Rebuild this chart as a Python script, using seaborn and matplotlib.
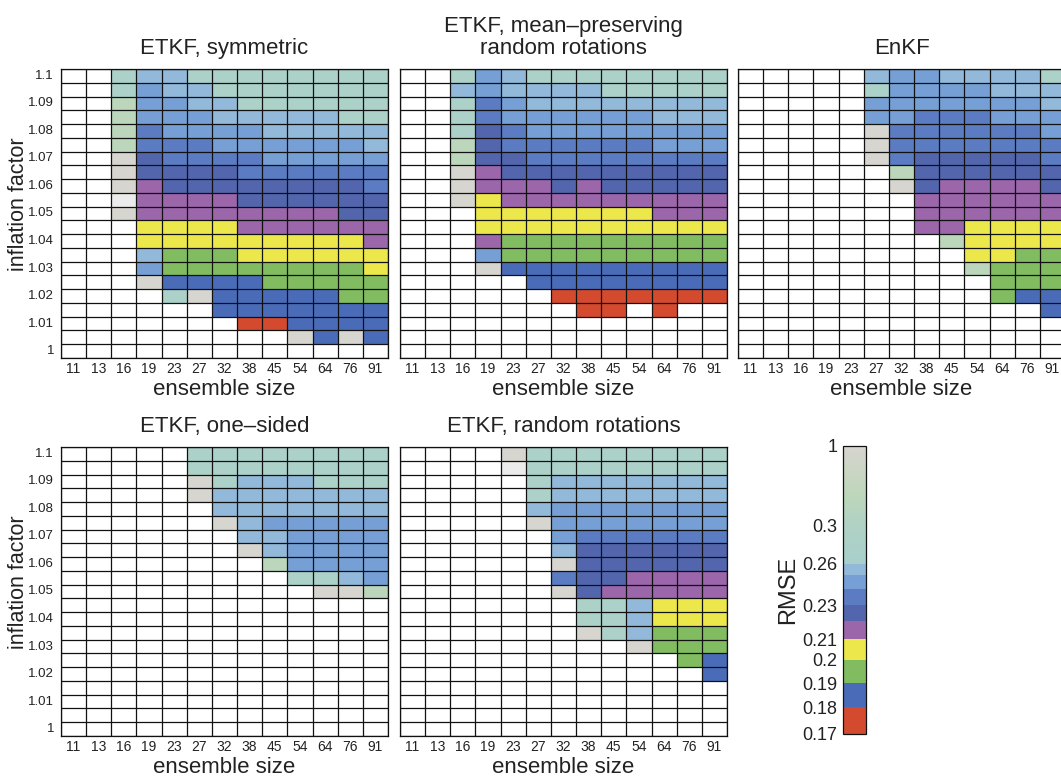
import numpy as np
import pandas as pd
import matplotlib
matplotlib.use("Agg")
import matplotlib.pyplot as plt
import seaborn as sns
from matplotlib.colors import ListedColormap, FuncNorm, to_rgb

sns.set_style("white")
plt.rcParams["font.family"] = ["Liberation Sans", "DejaVu Sans"]

# ---------------- data ----------------
ensemble_sizes = [11, 13, 16, 19, 23, 27, 32, 38, 45, 54, 64, 76, 91]
inflation_factors = [1.100, 1.095, 1.090, 1.085, 1.080, 1.075, 1.070, 1.065,
                     1.060, 1.055, 1.050, 1.045, 1.040, 1.035, 1.030, 1.025,
                     1.020, 1.015, 1.010, 1.005, 1.000]
inflation_ticklabels = ["1.1", "", "1.09", "", "1.08", "", "1.07", "", "1.06", "",
                        "1.05", "", "1.04", "", "1.03", "", "1.02", "", "1.01", "", "1"]

# estimated RMSE for each colour class ('.' = diverged / no value)
rmse_of_class = {".": np.nan, "r": 0.175, "b": 0.185, "g": 0.195, "y": 0.205,
                 "p": 0.215, "d": 0.225, "m": 0.235, "c": 0.245, "l": 0.255,
                 "t": 0.28, "s": 0.55, "h": 0.97, "x": 1.5}

etkf_symmetric = [
    "..tlltttttttt", "..tcllttttttt", "..scclltttttt", "..scccllllltt",
    "..smcccclllll", "..smmmccccccl", "..hdmmmmccccc", "..hddddmmmmmm",
    "..hpddddddddm", "..xppppdddddd", "..hppppppppdd", "...yyyypppppp",
    "...yyyyyyyyyp", "...lgggyyyyyy", "...cggggggggy", "...hbbbbggggg",
    "....thbbbbbgg", "......bbbbbbb", ".......rrbbbb", ".........hbhb",
    ".............",
]
etkf_mean_preserving = [
    "..tcltttttttt", "..lcllllttttt", "..tmcllllllll", "..tmcccccclll",
    "..tdmcccccccc", "..sdmmmmmmccc", "..sddmmmmmmmm", "..hpddddddddd",
    "..hpppdpddddd", "..hyppppppppp", "...yyyyyyyppp", "...yyyyyyyyyy",
    "...pggggggggg", "...cggggggggg", "...hbbbbbbbbb", ".....bbbbbbbb",
    "......rrrrrrr", ".......rr.r..", ".............", ".............",
    ".............",
]
enkf = [
    ".....lccllllt", ".....tcccclll", ".....cccccccl", ".....ccmmmccc",
    ".....hmmmmmmc", ".....hmmmmmmm", ".....hmdddddm", "......sdddddd",
    "......hdppppd", ".......pppppp", ".......pppppp", ".......ppyyyy",
    "........syyyy", ".........yygg", ".........sggg", "..........ggg",
    "..........gbb", "............b", ".............", ".............",
    ".............",
]
etkf_one_sided = [
    ".....tttttttt", ".....tttttttt", ".....htlllttt", ".....hlllllll",
    "......lllllll", "......hlccccc", ".......llcccc", ".......hlcccc",
    "........scccc", ".........ttlc", "..........hhs", ".............",
    ".............", ".............", ".............", ".............",
    ".............", ".............", ".............", ".............",
    ".............",
]
etkf_random_rotations = [
    "....htttttttt", "....xtttttttt", ".....tlllllll", ".....tlllllll",
    ".....lccccccc", ".....hccccccc", "......cmmmmmm", "......ldddddd",
    "......hdddddd", "......mddpppp", "......hdppppp", ".......ttlyyy",
    ".......ttlyyy", ".......htlggg", ".........hggg", "...........gb",
    "............b", ".............", ".............", ".............",
    ".............",
]

panels = [
    ("ETKF, symmetric", etkf_symmetric),
    ("ETKF, mean\u2013preserving\nrandom rotations", etkf_mean_preserving),
    ("EnKF", enkf),
    ("ETKF, one\u2013sided", etkf_one_sided),
    ("ETKF, random rotations", etkf_random_rotations),
]

cbar_ticks = [0.17, 0.18, 0.19, 0.2, 0.21, 0.23, 0.26, 0.3, 1]
cbar_ticklabels = ["0.17", "0.18", "0.19", "0.2", "0.21", "0.23", "0.26", "0.3", "1"]

# ---------------- colour scale (non-linear, as in the colorbar) ----------------
scale_vals = np.array([0.17, 0.18, 0.19, 0.20, 0.21, 0.22, 0.23, 0.24, 0.25, 0.26, 0.30, 1.0, 10.0])
scale_px = np.array([734, 707, 683, 660, 639, 621, 605, 589, 575, 564, 526, 446, 446 - 288 * 9])
scale_pos = (734 - scale_px) / 288.0


def fwd(x):
    return np.interp(x, scale_vals, scale_pos)


def inv(p):
    return np.interp(p, scale_pos, scale_vals)


norm = FuncNorm((fwd, inv), vmin=0.17, vmax=1.0)

bin_edges = [0.17, 0.18, 0.19, 0.20, 0.21, 0.22, 0.23, 0.24, 0.25, 0.26]
bin_colors = ["#d44a2f", "#4a6cb8", "#82bc60", "#ece84c", "#9b66aa",
              "#5366ad", "#5b7bc2", "#76a0d5", "#92b8da"]
grad_vals = [0.26, 0.30, 0.55, 0.80, 1.0]
grad_colors = ["#a8cfcb", "#afd2c5", "#bcd6bb", "#cbd6c4", "#d8d5d1"]
grad_rgb = np.array([to_rgb(c) for c in grad_colors])

N = 288
entries = []
for v in inv((np.arange(N) + 0.5) / N):
    if v < 0.26:
        k = int(np.searchsorted(bin_edges, v, side="right")) - 1
        entries.append(to_rgb(bin_colors[k]))
    else:
        entries.append(tuple(np.interp(v, grad_vals, grad_rgb[:, j]) for j in range(3)))
cmap = ListedColormap(entries)
cmap.set_over("#ebebeb")
cmap.set_bad("white")

# ---------------- figure ----------------
W, H = 1061, 776
fig = plt.figure(figsize=(W / 100, H / 100), dpi=100)
fig.patch.set_facecolor("white")

ax_px = [(61, 69), (400, 69), (738, 69), (61, 447), (400, 447)]
ax_w, ax_h = 327, 289

mesh = None
for i, ((title, rows), (x0, y0)) in enumerate(zip(panels, ax_px)):
    ax = fig.add_axes([x0 / W, 1 - (y0 + ax_h) / H, ax_w / W, ax_h / H])
    data = pd.DataFrame([[rmse_of_class[ch] for ch in r] for r in rows],
                        index=inflation_factors, columns=ensemble_sizes)
    show_y = i in (0, 3)
    sns.heatmap(data, ax=ax, cmap=cmap, norm=norm, cbar=False,
                xticklabels=ensemble_sizes,
                yticklabels=inflation_ticklabels if show_y else False,
                linewidths=0)
    mesh = ax.collections[0]
    ax.set_xticks(np.arange(len(ensemble_sizes) + 1), minor=True)
    ax.set_yticks(np.arange(len(inflation_factors) + 1), minor=True)
    ax.grid(which="minor", color="#111111", lw=0.9)
    ax.grid(which="major", visible=False)
    ax.set_axisbelow(False)
    ax.tick_params(which="both", length=0)
    ax.tick_params(axis="x", labelsize=10, pad=3, colors="#222222")
    ax.tick_params(axis="y", labelsize=9.5, pad=5, colors="#222222")
    plt.setp(ax.get_xticklabels(), rotation=0)
    plt.setp(ax.get_yticklabels(), rotation=0)
    for sp in ax.spines.values():
        sp.set_visible(True)
        sp.set_color("#111111")
        sp.set_linewidth(0.9)
    ax.set_title(title, fontsize=16, pad=11, color="#222222", linespacing=1.05)
    ax.set_xlabel("ensemble size", fontsize=16, color="#222222")
    ax.xaxis.set_label_coords(0.5, -0.071)
    if show_y:
        ax.set_ylabel("inflation factor", fontsize=15.5, color="#222222")
        ax.yaxis.set_label_coords(-0.099, 0.533)
    else:
        ax.set_ylabel("")

cax = fig.add_axes([843 / W, 1 - 734 / H, 23 / W, 288 / H])
cb = fig.colorbar(mesh, cax=cax)
cb.set_ticks(cbar_ticks)
cb.set_ticklabels(cbar_ticklabels)
cb.minorticks_off()
cax.yaxis.set_ticks_position("left")
cax.yaxis.set_label_position("left")
cax.tick_params(length=0, labelsize=13, pad=4, colors="#222222")
cb.set_label("RMSE", fontsize=17, labelpad=2, color="#222222")
cb.outline.set_edgecolor("#111111")
cb.outline.set_linewidth(0.9)

fig.savefig("out.png", dpi=100, facecolor="white")
